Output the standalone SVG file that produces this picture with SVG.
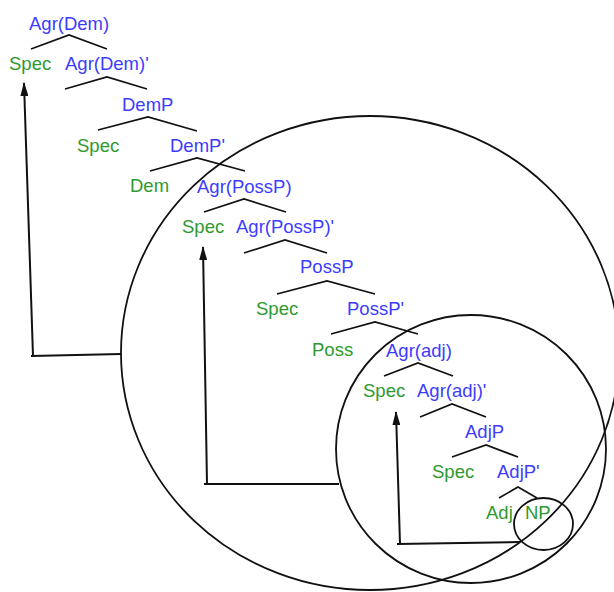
<svg xmlns="http://www.w3.org/2000/svg" width="614" height="592" viewBox="0 0 614 592">
<style>
text{font-family:"Liberation Sans",Arial,sans-serif;font-size:18.5px}
.b{fill:#3c3cff}
.g{fill:#2e9a2e}
.br{fill:none;stroke:#111;stroke-width:1.7}
.c{fill:none;stroke:#111;stroke-width:1.8}
.ar{fill:none;stroke:#111;stroke-width:2}
</style>
<defs>
<marker id="ah" viewBox="0 0 14 8" refX="13" refY="4" markerWidth="7" markerHeight="4" orient="auto" markerUnits="strokeWidth"><path d="M0,0 L14,4 L0,8 z" fill="#111"/></marker>
</defs>
<g id="regions">
<ellipse id="big" class="c" cx="370" cy="353" rx="249" ry="237"/>
<ellipse id="medium" class="c" cx="471" cy="449" rx="135" ry="134"/>
<ellipse id="small" class="c" cx="543.5" cy="524" rx="29.5" ry="26"/>
</g>
<g id="branches">
<polyline class="br" points="31,49 69,35 107,49"/>
<polyline class="br" points="65,89 107,77 147,89"/>
<polyline class="br" points="98,130 148,117 197,131"/>
<polyline class="br" points="150,171 197,158 245,171"/>
<polyline class="br" points="204,212 244,199 286,212"/>
<polyline class="br" points="244,253 285,240 327,253"/>
<polyline class="br" points="277,294 327,281 375,294"/>
<polyline class="br" points="331,334 375,322 418,334"/>
<polyline class="br" points="384,376 418,363 453,376"/>
<polyline class="br" points="420,417 452,404 486,417"/>
<polyline class="br" points="452,457 486,445 518,457"/>
<polyline class="br" points="499,498 518,487 537,498"/>
</g>
<g id="n-agrdem"><text class="b" x="29" y="30">Agr(Dem)</text></g>
<g id="n-spec1"><text class="g" x="9" y="70">Spec</text></g>
<g id="n-agrdem-bar"><text class="b" x="65" y="70">Agr(Dem)'</text></g>
<g id="n-demp"><text class="b" x="122" y="111">DemP</text></g>
<g id="n-spec2"><text class="g" x="77" y="152">Spec</text></g>
<g id="n-demp-bar"><text class="b" x="170" y="152">DemP'</text></g>
<g id="n-dem"><text class="g" x="130" y="192">Dem</text></g>
<g id="n-agrpossp"><text class="b" x="197" y="193">Agr(PossP)</text></g>
<g id="n-spec3"><text class="g" x="182" y="233">Spec</text></g>
<g id="n-agrpossp-bar"><text class="b" x="236" y="233">Agr(PossP)'</text></g>
<g id="n-possp"><text class="b" x="300" y="273">PossP</text></g>
<g id="n-spec4"><text class="g" x="256" y="315">Spec</text></g>
<g id="n-possp-bar"><text class="b" x="347" y="315">PossP'</text></g>
<g id="n-poss"><text class="g" x="312" y="356">Poss</text></g>
<g id="n-agradj"><text class="b" x="386" y="357">Agr(adj)</text></g>
<g id="n-spec5"><text class="g" x="363" y="397">Spec</text></g>
<g id="n-agradj-bar"><text class="b" x="417" y="397">Agr(adj)'</text></g>
<g id="n-adjp"><text class="b" x="465" y="438">AdjP</text></g>
<g id="n-spec6"><text class="g" x="432" y="478">Spec</text></g>
<g id="n-adjp-bar"><text class="b" x="497" y="478">AdjP'</text></g>
<g id="n-adj"><text class="g" x="486" y="519">Adj</text></g>
<g id="n-np"><text class="g" x="525" y="519">NP</text></g>
<g id="connectors">
<polyline class="ar" points="121,354 31,356 33,356 24,83" marker-end="url(#ah)"/>
<polyline class="ar" points="339,484 204,484 207,484 203,247" marker-end="url(#ah)"/>
<polyline class="ar" points="520,542 397,544 400,544 396,412" marker-end="url(#ah)"/>
</g>
</svg>
